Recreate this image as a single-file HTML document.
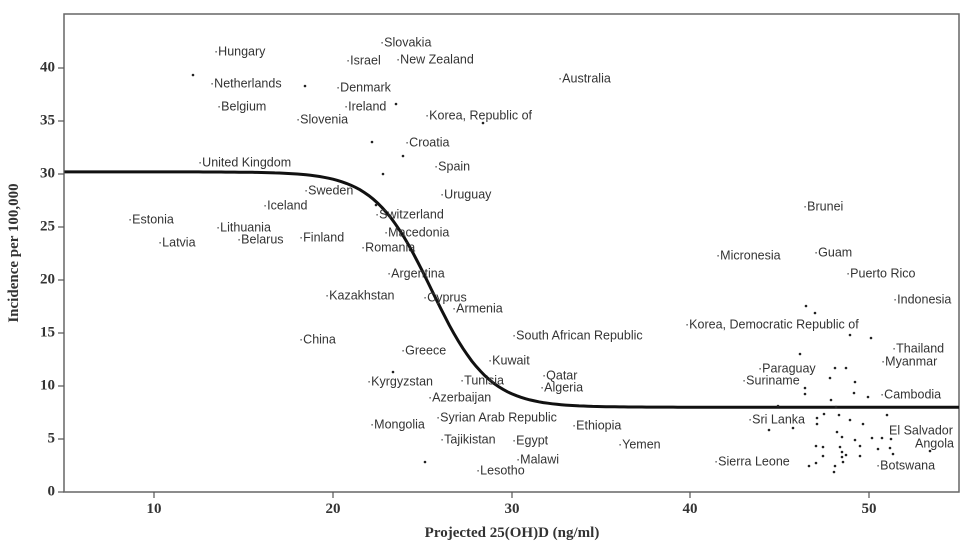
<!DOCTYPE html>
<html><head><meta charset="utf-8"><style>
body{margin:0;background:#fff;}
svg{display:block}
.l{font-family:"Liberation Sans",sans-serif;font-size:12.5px;fill:#333;dominant-baseline:middle}
.t{font-family:"Liberation Serif",serif;font-size:15px;font-weight:bold;fill:#333}
</style></head><body>
<svg width="970" height="546" viewBox="0 0 970 546">
<rect x="0" y="0" width="970" height="546" fill="#fff"/>
<rect x="64" y="14" width="895" height="478" fill="none" stroke="#666" stroke-width="1.5"/>
<g stroke="#555" stroke-width="1.2">
<line x1="58" y1="492" x2="64" y2="492"/><line x1="58" y1="439" x2="64" y2="439"/><line x1="58" y1="386" x2="64" y2="386"/><line x1="58" y1="333" x2="64" y2="333"/><line x1="58" y1="280" x2="64" y2="280"/><line x1="58" y1="227" x2="64" y2="227"/><line x1="58" y1="174" x2="64" y2="174"/><line x1="58" y1="121" x2="64" y2="121"/><line x1="58" y1="68" x2="64" y2="68"/>
<line x1="154" y1="492" x2="154" y2="498"/><line x1="333" y1="492" x2="333" y2="498"/><line x1="512" y1="492" x2="512" y2="498"/><line x1="690" y1="492" x2="690" y2="498"/><line x1="869" y1="492" x2="869" y2="498"/>
</g>
<g class="t" text-anchor="end" style="dominant-baseline:middle">
<text x="55" y="492">0</text><text x="55" y="439">5</text><text x="55" y="386">10</text><text x="55" y="333">15</text><text x="55" y="280">20</text><text x="55" y="227">25</text><text x="55" y="174">30</text><text x="55" y="121">35</text><text x="55" y="68">40</text>
</g>
<g class="t" text-anchor="middle">
<text x="154" y="513">10</text><text x="333" y="513">20</text><text x="512" y="513">30</text><text x="690" y="513">40</text><text x="869" y="513">50</text>
<text x="512" y="537">Projected 25(OH)D (ng/ml)</text>
<text transform="translate(18,253) rotate(-90)">Incidence per 100,000</text>
</g>
<path id="c" fill="none" stroke="#111" stroke-width="3" d=""/>
<script>
(function(){var d="";for(var x=5;x<=55;x+=0.25){var y=8+22.2/(1+Math.exp((x-25.5)/1.6));var px=154+(x-10)*17.9,py=492-y*10.6;if(px<64)px=64;if(px>959)px=959;d+=(d?"L":"M")+px.toFixed(1)+" "+py.toFixed(1);}document.getElementById("c").setAttribute("d",d);})();
</script>
<g class="l">
<text x="214" y="52">·Hungary</text><text x="210" y="84">·Netherlands</text><text x="217" y="107">·Belgium</text><text x="296" y="120">·Slovenia</text><text x="198" y="163">·United Kingdom</text><text x="304" y="191">·Sweden</text><text x="263" y="206">·Iceland</text><text x="128" y="220">·Estonia</text><text x="158" y="243">·Latvia</text><text x="216" y="228">·Lithuania</text><text x="237" y="240">·Belarus</text><text x="299" y="238">·Finland</text><text x="299" y="340">·China</text>
<text x="380" y="43">·Slovakia</text><text x="346" y="61">·Israel</text><text x="396" y="60">·New Zealand</text><text x="336" y="88">·Denmark</text><text x="344" y="107">·Ireland</text><text x="425" y="116">·Korea, Republic of</text><text x="405" y="143">·Croatia</text><text x="434" y="167">·Spain</text><text x="440" y="195">·Uruguay</text><text x="375" y="215">·Switzerland</text><text x="384" y="233">·Macedonia</text><text x="361" y="248">·Romania</text><text x="387" y="274">·Argentina</text><text x="325" y="296">·Kazakhstan</text><text x="423" y="298">·Cyprus</text><text x="452" y="309">·Armenia</text><text x="401" y="351">·Greece</text><text x="367" y="382">·Kyrgyzstan</text><text x="460" y="381">·Tunisia</text><text x="428" y="398">·Azerbaijan</text><text x="436" y="418">·Syrian Arab Republic</text><text x="370" y="425">·Mongolia</text><text x="440" y="440">·Tajikistan</text><text x="512" y="441">·Egypt</text><text x="516" y="460">·Malawi</text><text x="476" y="471">·Lesotho</text>
<text x="558" y="79">·Australia</text><text x="512" y="336">·South African Republic</text><text x="488" y="361">·Kuwait</text><text x="542" y="376">·Qatar</text><text x="540" y="388">·Algeria</text><text x="572" y="426">·Ethiopia</text><text x="618" y="445">·Yemen</text>
<text x="716" y="256">·Micronesia</text><text x="803" y="207">·Brunei</text><text x="814" y="253">·Guam</text><text x="846" y="274">·Puerto Rico</text><text x="893" y="300">·Indonesia</text><text x="685" y="325">·Korea, Democratic Republic of</text><text x="892" y="349">·Thailand</text><text x="881" y="362">·Myanmar</text><text x="758" y="369">·Paraguay</text><text x="742" y="381">·Suriname</text><text x="880" y="395">·Cambodia</text><text x="748" y="420">·Sri Lanka</text><text x="889" y="431">El Salvador</text><text x="915" y="444">Angola</text><text x="714" y="462">·Sierra Leone</text><text x="876" y="466">·Botswana</text>
</g>
<g fill="#222">
<circle cx="193" cy="75" r="1.3"/><circle cx="305" cy="86" r="1.3"/><circle cx="372" cy="142" r="1.3"/><circle cx="403" cy="156" r="1.3"/><circle cx="383" cy="174" r="1.3"/><circle cx="396" cy="104" r="1.3"/><circle cx="483" cy="123" r="1.3"/><circle cx="376" cy="205" r="1.3"/><circle cx="393" cy="372" r="1.3"/><circle cx="425" cy="462" r="1.3"/><circle cx="806" cy="306" r="1.3"/><circle cx="815" cy="313" r="1.3"/><circle cx="850" cy="335" r="1.3"/><circle cx="871" cy="338" r="1.3"/><circle cx="800" cy="354" r="1.3"/><circle cx="835" cy="368" r="1.3"/><circle cx="846" cy="368" r="1.3"/><circle cx="830" cy="378" r="1.3"/><circle cx="855" cy="382" r="1.3"/><circle cx="805" cy="388" r="1.3"/><circle cx="805" cy="394" r="1.3"/><circle cx="854" cy="393" r="1.3"/><circle cx="868" cy="397" r="1.3"/><circle cx="831" cy="400" r="1.3"/><circle cx="824" cy="414" r="1.3"/><circle cx="839" cy="415" r="1.3"/><circle cx="850" cy="420" r="1.3"/><circle cx="863" cy="424" r="1.3"/><circle cx="817" cy="424" r="1.3"/><circle cx="837" cy="432" r="1.3"/><circle cx="842" cy="437" r="1.3"/><circle cx="855" cy="440" r="1.3"/><circle cx="872" cy="438" r="1.3"/><circle cx="882" cy="438" r="1.3"/><circle cx="891" cy="439" r="1.3"/><circle cx="816" cy="446" r="1.3"/><circle cx="823" cy="447" r="1.3"/><circle cx="840" cy="447" r="1.3"/><circle cx="842" cy="452" r="1.3"/><circle cx="860" cy="446" r="1.3"/><circle cx="878" cy="449" r="1.3"/><circle cx="890" cy="448" r="1.3"/><circle cx="823" cy="456" r="1.3"/><circle cx="842" cy="457" r="1.3"/><circle cx="846" cy="455" r="1.3"/><circle cx="860" cy="456" r="1.3"/><circle cx="893" cy="454" r="1.3"/><circle cx="930" cy="451" r="1.3"/><circle cx="816" cy="463" r="1.3"/><circle cx="843" cy="462" r="1.3"/><circle cx="809" cy="466" r="1.3"/><circle cx="835" cy="466" r="1.3"/><circle cx="834" cy="472" r="1.3"/><circle cx="769" cy="430" r="1.3"/><circle cx="793" cy="428" r="1.3"/><circle cx="817" cy="418" r="1.3"/><circle cx="836" cy="407" r="1.3"/><circle cx="887" cy="415" r="1.3"/><circle cx="778" cy="406" r="1.3"/>
</g>
</svg>
</body></html>
